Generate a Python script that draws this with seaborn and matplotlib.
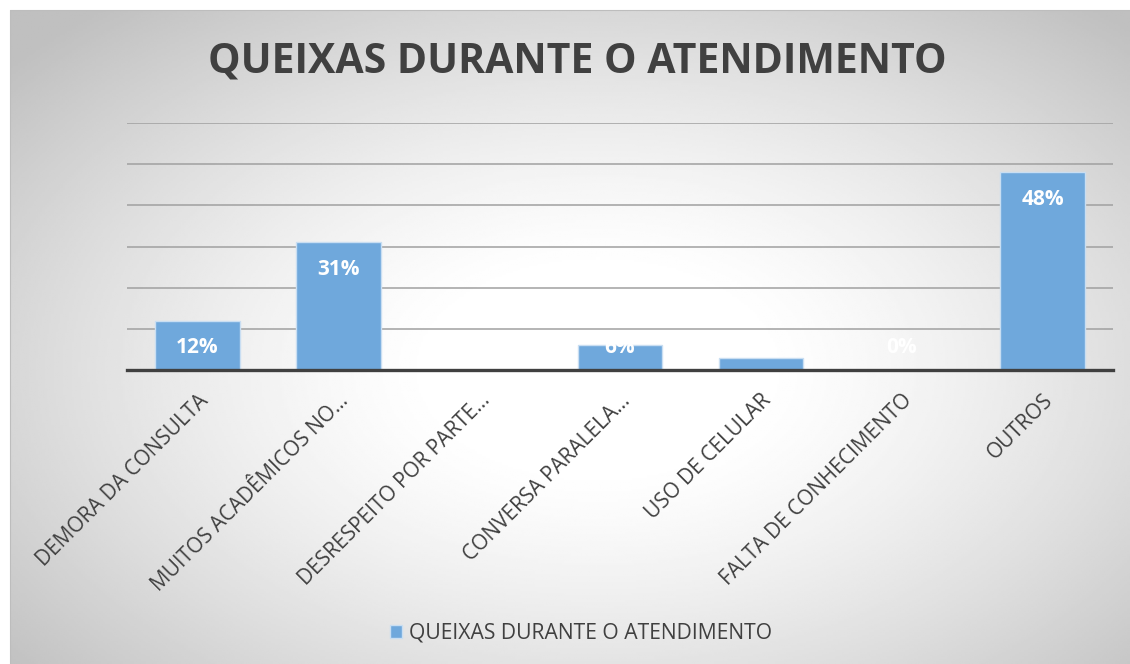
import numpy as np
import pandas as pd
import seaborn as sns
import matplotlib.pyplot as plt

categorias = [
    "DEMORA DA CONSULTA",
    "MUITOS ACADÊMICOS NO…",
    "DESRESPEITO POR PARTE…",
    "CONVERSA PARALELA…",
    "USO DE CELULAR",
    "FALTA DE CONHECIMENTO",
    "OUTROS",
]
percentuais = [12, 31, 0, 6, 3, 0, 48]
serie = "QUEIXAS DURANTE O ATENDIMENTO"
titulo = "QUEIXAS DURANTE O ATENDIMENTO"

df = pd.DataFrame({"categoria": categorias, "pct": percentuais})

sns.set_style("white")
plt.rcParams["font.family"] = ["Open Sans", "DejaVu Sans"]

fig = plt.figure(figsize=(11.3, 6.64), dpi=100)

# radial gradient background (Excel style), white in the middle
bg = fig.add_axes([10 / 1130, 0, 1120 / 1130, 654 / 664])
yy, xx = np.mgrid[1:-1:300j, -1:1:500j]
r = np.sqrt(((xx - 0.05) / 1.0) ** 2 + ((yy + 0.1) / 1.05) ** 2) / np.sqrt(2)
shade = 1 - 0.25 * np.clip((r - 0.2) / 0.78, 0, 1) ** 1.3
bg.imshow(shade, cmap="gray", vmin=0, vmax=1, aspect="auto", extent=[0, 1, 0, 1])
bg.set_axis_off()
fig.add_artist(plt.Line2D([10 / 1130, 10 / 1130], [0, 654 / 664], color="#bdbdbd", lw=0.8))
fig.add_artist(plt.Line2D([10 / 1130, 1], [654 / 664, 654 / 664], color="#bdbdbd", lw=0.8))

ax = fig.add_axes([127 / 1130, 294 / 664, 986 / 1130, 247 / 664])
ax.patch.set_alpha(0)

sns.barplot(data=df, x="categoria", y="pct", color="#6fa8dc", saturation=1,
            width=0.6, edgecolor="#c9def2", linewidth=1.0, label=serie, ax=ax, zorder=3)
if ax.get_legend() is not None:
    ax.get_legend().remove()

ax.set_ylim(0, 60)
ax.set_xlim(-0.5, len(categorias) - 0.5)
ax.set_yticks(range(10, 61, 10))
ax.yaxis.grid(True, color="#a0a0a0", linewidth=1.1, zorder=0)
ax.set_axisbelow(True)
ax.tick_params(axis="y", left=False, labelleft=False)
ax.tick_params(axis="x", bottom=False, pad=11)
for s in ["top", "right", "left"]:
    ax.spines[s].set_visible(False)
ax.spines["bottom"].set_color("#404040")
ax.spines["bottom"].set_linewidth(2.4)
ax.spines["bottom"].set_zorder(5)
ax.set_xlabel("")
ax.set_ylabel("")
ax.set_xticks(range(len(categorias)))
ax.set_xticklabels(categorias, rotation=45, ha="right", rotation_mode="anchor",
                   fontsize=15, color="#404040")

for i, v in enumerate(percentuais):
    ax.text(i, max(v - 6.6, 5.4), f"{v}%", ha="center", va="center",
            fontsize=15, fontweight="bold", color="white", zorder=4)

fig.text(0.511, 0.907, titulo, ha="center", va="center", fontsize=29.5,
         fontweight="bold", color="#404040")

h, l = ax.get_legend_handles_labels()
fig.legend(h[:1], l[:1], loc="center", bbox_to_anchor=(0.514, 0.046), frameon=False,
           fontsize=15.2, handlelength=0.6, handleheight=0.6, handletextpad=0.3,
           labelcolor="#404040")

fig.savefig("out.png", dpi=100)
